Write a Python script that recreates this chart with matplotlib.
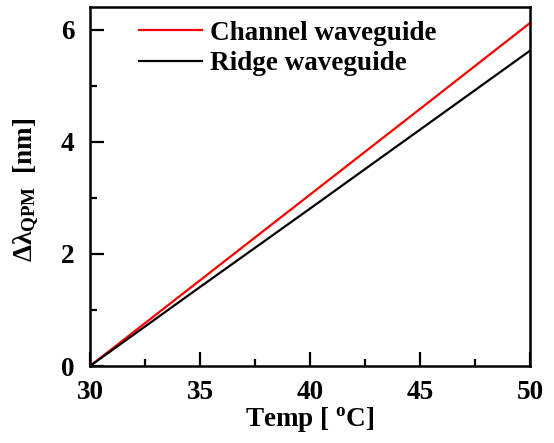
import matplotlib
matplotlib.use("Agg")
import matplotlib.pyplot as plt
from matplotlib.ticker import MultipleLocator

# Temperature detuning of the QPM wavelength for the two waveguide types
temp = [30, 35, 40, 45, 50]
channel = [0.0, 1.53, 3.06, 4.59, 6.125]
ridge = [0.0, 1.41, 2.81, 4.22, 5.63]

series_labels = ["Channel waveguide", "Ridge waveguide"]
xlabel = "Temp [ $\\mathregular{^{o}}$C]"
ylabel = r"$\Delta\lambda_{\mathrm{QPM}}$  [nm]"

FS = 19.5

plt.rcParams["font.family"] = "Liberation Serif"
plt.rcParams["font.weight"] = "bold"
plt.rcParams["mathtext.fontset"] = "custom"
plt.rcParams["mathtext.rm"] = "Liberation Serif:bold"
plt.rcParams["mathtext.it"] = "Liberation Serif:bold"
plt.rcParams["mathtext.bf"] = "Liberation Serif:bold"

fig = plt.figure(figsize=(5.54, 4.43), dpi=100)
ax = fig.add_axes([90 / 554, 77 / 443, 440 / 554, 359 / 443])

ax.plot(temp, channel, color="#ff0000", lw=1.6, label=series_labels[0])
ax.plot(temp, ridge, color="black", lw=1.6, label=series_labels[1])

ax.set_xlim(30, 50)
ax.set_ylim(0, 6.41)
ax.xaxis.set_major_locator(MultipleLocator(5))
ax.xaxis.set_minor_locator(MultipleLocator(2.5))
ax.yaxis.set_major_locator(MultipleLocator(2))
ax.yaxis.set_minor_locator(MultipleLocator(1))

for s in ax.spines.values():
    s.set_linewidth(1.8)
ax.tick_params(which="both", direction="in", width=1.6, labelsize=FS)
ax.tick_params(axis="x", pad=10)
ax.tick_params(axis="y", pad=11)
ax.tick_params(which="major", length=10)
ax.tick_params(which="minor", length=5)

ax.set_xlabel(xlabel, fontsize=FS, fontweight="bold", labelpad=0)
ax.set_ylabel(ylabel, fontsize=FS, fontweight="bold")
ax.yaxis.set_label_coords(-0.112, 0.49)

ax.legend(loc="upper left", bbox_to_anchor=(0.055, 1.03), frameon=False,
          handlelength=2.35, handletextpad=0.3, labelspacing=0.2,
          prop={"weight": "bold", "size": FS})

fig.savefig("out.png", dpi=100)
